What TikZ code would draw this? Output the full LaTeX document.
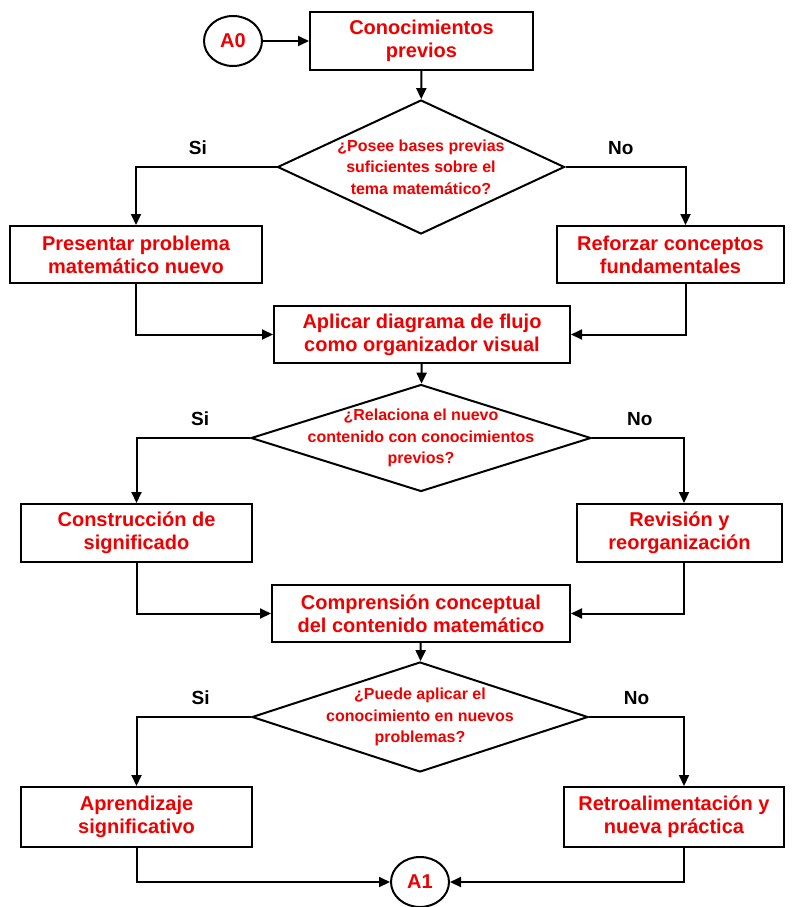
\documentclass[tikz,border=0pt]{standalone}
\usepackage{fontspec}
\setmainfont{Liberation Sans}
\usetikzlibrary{arrows.meta,shapes.geometric}
\definecolor{FlowRed}{RGB}{238,0,0}
\tikzset{
  flow/.style={-{Triangle[length=11pt,width=10pt]},line width=2pt},
  box/.style={draw,line width=2pt,inner sep=0pt,align=center,text=FlowRed,
    font=\fontsize{20}{23}\selectfont\bfseries},
  decision/.style={draw,diamond,line width=2pt,inner sep=0pt},
  asktext/.style={align=center,text=FlowRed,inner sep=0pt,
    font=\fontsize{16}{21.5}\selectfont\bfseries},
  terminal/.style={draw,ellipse,line width=2pt,inner sep=0pt,minimum width=58pt,
    minimum height=50pt,text=FlowRed,font=\fontsize{20}{23}\selectfont\bfseries},
  answer/.style={above=11pt,inner sep=0pt,font=\fontsize{19}{22}\selectfont\bfseries}
}

\begin{document}
\begin{tikzpicture}[x=1pt,y=-1pt]
  \useasboundingbox (0,0) rectangle (794,907);

  \node[terminal] (a0) at (233,41) {A0};
  \node[box,minimum width=223pt,minimum height=58pt] (know) at (421.5,41) {Conocimientos\\previos};
  \draw[flow] (a0) -- (know);

  \node[decision,minimum width=287pt,minimum height=134pt] (base) at (421,167) {};
  \node[asktext] at (base) {¿Posee bases previas\\suficientes sobre el\\tema matemático?};
  \draw[flow] (know) -- (base);

  \node[box,minimum width=252pt,minimum height=57pt] (present) at (136,254.5) {Presentar problema\\matemático nuevo};
  \node[box,minimum width=227pt,minimum height=57pt] (reinforce) at (670.5,254.5) {Reforzar conceptos\\fundamentales};
  \draw[flow] (base.west) -| node[answer,pos=0.28] {Si} (present.north);
  \draw[flow] (base.east) -| node[answer,pos=0.23] {No} ([xshift=15pt]reinforce.north);

  \node[box,minimum width=296pt,minimum height=57pt] (apply) at (422,334.5) {Aplicar diagrama de flujo\\como organizador visual};
  \draw[flow] (present.south) |- (apply.west);
  \draw[flow] ([xshift=15pt]reinforce.south) |- (apply.east);

  \node[decision,minimum width=340pt,minimum height=107pt] (relate) at (421,438) {};
  \node[asktext] at (relate) {¿Relaciona el nuevo\\contenido con conocimientos\\previos?};
  \draw[flow] (apply) -- (relate);

  \node[box,minimum width=231pt,minimum height=58pt] (build) at (136.5,533) {Construcción de\\significado};
  \node[box,minimum width=205pt,minimum height=58pt] (review) at (679.5,533) {Revisión y\\reorganización};
  \draw[flow] (relate.west) -| node[answer,pos=0.22] {Si} (build.north);
  \draw[flow] (relate.east) -| node[answer,pos=0.26] {No} ([xshift=4.5pt]review.north);

  \node[box,minimum width=298pt,minimum height=57pt] (grasp) at (421,613.5) {Comprensión conceptual\\del contenido matemático};
  \draw[flow] (build.south) |- (grasp.west);
  \draw[flow] ([xshift=4.5pt]review.south) |- (grasp.east);

  \node[decision,minimum width=336pt,minimum height=110pt] (use) at (420,717) {};
  \node[asktext] at (use) {¿Puede aplicar el\\conocimiento en nuevos\\problemas?};
  \draw[flow] (grasp) -- (use);

  \node[box,minimum width=231pt,minimum height=60pt] (learn) at (136.5,817) {Aprendizaje\\significativo};
  \node[box,minimum width=220pt,minimum height=60pt] (retro) at (674,817) {Retroalimentación y\\nueva práctica};
  \draw[flow] (use.west) -| node[answer,pos=0.22] {Si} (learn.north);
  \draw[flow] (use.east) -| node[answer,pos=0.25] {No} ([xshift=10pt]retro.north);

  \node[terminal] (a1) at (420,882) {A1};
  \draw[flow] (learn.south) |- (a1.west);
  \draw[flow] ([xshift=10pt]retro.south) |- (a1.east);
\end{tikzpicture}
\end{document}
